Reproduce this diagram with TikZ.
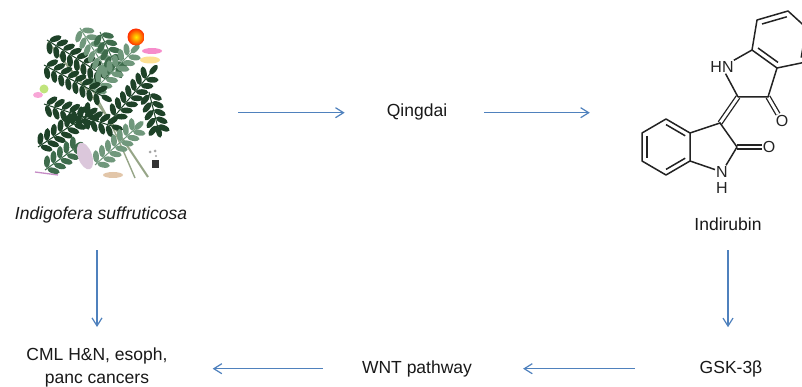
\documentclass[tikz,border=0pt]{standalone}
\usepackage{fontspec}
\setmainfont{Liberation Sans}
\usetikzlibrary{arrows.meta,calc}
\definecolor{arrowblue}{RGB}{79,129,189}
\definecolor{dkgreen}{RGB}{30,66,40}
\definecolor{mdgreen}{RGB}{62,108,76}
\definecolor{gygreen}{RGB}{112,152,124}
\definecolor{stemc}{RGB}{150,165,135}
\definecolor{txt}{RGB}{25,25,25}
\definecolor{bondc}{RGB}{35,35,35}
\newcommand\pinnleaf[5]{%
  \begin{scope}[shift={(#1,#2)},rotate=#3]
    \draw[#5,line width=1] (0,0) -- (#4,0);
    \foreach \s in {3,11,...,#4} {
      \fill[#5, rotate around={52:(\s+3.5,-5.6)}] (\s+3.5,-5.6) ellipse [x radius=6.3, y radius=2.9];
      \fill[#5, rotate around={-52:(\s+3.5,5.6)}] (\s+3.5,5.6) ellipse [x radius=6.3, y radius=2.9];
    }
    \fill[#5] (#4+5,0) ellipse [x radius=6, y radius=2.8];
  \end{scope}}
\tikzset{
  lbl/.style={font=\fontsize{17.5}{23}\selectfont, text=txt, inner sep=0pt, text height=12.6pt, text depth=4pt},
  lbltwo/.style={font=\fontsize{17.5}{23}\selectfont, text=txt, inner sep=0pt, align=center},
  arr/.style={draw=arrowblue, line width=1.2pt, -{Straight Barb[length=8pt,width=10pt]}},
  bond/.style={draw=bondc, line width=1.5pt},
  dbond/.style={draw=bondc, line width=1.3pt, double=white, double distance=2.8pt},
  atom/.style={font=\fontsize{16}{18}\selectfont, text=bondc, inner sep=1pt}
}
\begin{document}
\begin{tikzpicture}[x=1pt,y=-1pt]
\useasboundingbox (0,0) rectangle (802,387);
\fill[white] (0,0) rectangle (802,387);

% ---------- plant illustration ----------
\node[inner sep=0pt, minimum width=140pt, minimum height=10pt] (plant) at (100,112.7) {};
\draw[stemc, line width=2pt] (48,42) .. controls (100,105) .. (148,177);
\draw[stemc, line width=1.4pt] (75,60) .. controls (110,120) .. (135,178);
\pinnleaf{47}{40}{-32}{62}{dkgreen}
\pinnleaf{80}{28}{-58}{45}{gygreen}
\pinnleaf{100}{32}{-65}{40}{mdgreen}
\pinnleaf{92}{92}{45}{56}{gygreen}
\pinnleaf{44}{65}{-28}{66}{dkgreen}
\pinnleaf{44}{104}{-18}{72}{dkgreen}
\pinnleaf{38}{147}{33}{60}{dkgreen}
\pinnleaf{113}{118}{50}{58}{dkgreen}
\pinnleaf{149}{92}{-76}{36}{dkgreen}
\pinnleaf{95}{165}{42}{54}{gygreen}
\pinnleaf{45}{170}{36}{36}{mdgreen}
\fill[black!30!violet!22!white, rotate around={20:(85,156)}] (85,156) ellipse [x radius=7, y radius=14];
\shade[inner color=yellow!85!orange, outer color=red!65!orange] (136,37) circle (8.5);
\fill[magenta!45!white] (152,51) ellipse [x radius=10, y radius=3];
\fill[yellow!45!orange!40!white] (150,60) ellipse [x radius=10, y radius=3.5];
\fill[yellow!55!green!55!white] (44,89) circle (4.5);
\fill[magenta!35!white] (38,95) ellipse [x radius=5, y radius=3];
\draw[violet!45!white, line width=1.3pt] (35,172) -- (58,175);
\fill[brown!45!white] (113,175) ellipse [x radius=10, y radius=3];
\fill[black!80] (152,160) rectangle (159,168);
\fill[gray!70] (150,152) circle (1.5) (155,151) circle (1.5) (156,156) circle (1.2);

% ---------- indirubin structure ----------
\coordinate (l3a) at (690,133);
\coordinate (l4) at (666,119);
\coordinate (l5) at (642,133);
\coordinate (l6) at (642,161);
\coordinate (l7) at (666,175);
\coordinate (l7a) at (690,161);
\coordinate (lc) at (666,147);
\coordinate (l3) at (720,123);
\coordinate (l2) at (737,147);
\node[atom] (lN) at (722,172) {N};
\node[atom] (lH) at (722,188) {H};
\node[atom] (lO) at (769,147) {O};
\coordinate (u2) at (738,97);
\coordinate (u3) at (768,97);
\coordinate (u3a) at (777,68);
\coordinate (u4) at (806,62);
\coordinate (u5) at (811,32);
\coordinate (u6) at (788,11);
\coordinate (u7) at (757,20);
\coordinate (u7a) at (752,50);
\coordinate (uc) at (782,40);
\node[atom] (uN) at (722,67) {HN};
\node[atom] (uO) at (782,121) {O};
\node[inner sep=0pt, minimum width=160pt, minimum height=10pt] (mol) at (722,112.7) {};

\draw[dbond] (l3) -- (u2);
\draw[dbond] (l2) -- (lO);
\draw[dbond] (u3) -- (uO);
\draw[bond, line join=round] (l3a) -- (l4) -- (l5) -- (l6) -- (l7) -- (l7a) -- cycle;
\draw[bond] (l3a) -- (l3) -- (l2);
\draw[bond] (l7a) -- (lN);
\draw[bond] (lN) -- (l2);
\draw[bond] ($(lc)!0.8!(l3a)$) -- ($(lc)!0.8!(l4)$);
\draw[bond] ($(lc)!0.8!(l5)$) -- ($(lc)!0.8!(l6)$);
\draw[bond] ($(lc)!0.8!(l7)$) -- ($(lc)!0.8!(l7a)$);
\draw[bond, line join=round] (u7a) -- (u7) -- (u6) -- (u5) -- (u4) -- (u3a) -- cycle;
\draw[bond] (u3a) -- (u3) -- (u2);
\draw[bond] (u2) -- (uN);
\draw[bond] (uN) -- (u7a);
\draw[bond] ($(uc)!0.8!(u7)$) -- ($(uc)!0.8!(u6)$);
\draw[bond] ($(uc)!0.8!(u7a)$) -- ($(uc)!0.8!(u3a)$);
\draw[bond] ($(uc)!0.8!(u5)$) -- ($(uc)!0.8!(u4)$);

% ---------- labels ----------
\node[lbl, anchor=base] (plantlbl) at (101,219) {\itshape Indigofera suffruticosa};
\node[lbl, anchor=base] (qingdai) at (417,117) {Qingdai};
\node[lbl, anchor=base] (indirubin) at (728,230) {Indirubin};
\node[lbltwo, anchor=north] (cml) at (97,348) {CML H\&N, esoph,\\panc cancers};
\node[lbl, anchor=base] (wnt) at (417,373) {WNT pathway};
\node[lbl, anchor=base] (gsk) at (731,373) {GSK-3β};

% ---------- arrows ----------
\draw[arr, shorten <=68pt, shorten >=42pt] (qingdai.west -| plant.east) -- (qingdai.west);
\draw[arr, shorten <=37pt, shorten >=52pt] (qingdai.east) -- (qingdai.east -| mol.west);
\draw[arr, shorten <=27pt, shorten >=21pt] (cml.north |- plantlbl.south) -- (cml.north);
\draw[arr, shorten <=16pt, shorten >=33pt] (indirubin.south) -- (indirubin.south |- gsk.north);
\draw[arr, shorten <=65pt, shorten >=51pt] (gsk.west) -- (gsk.west -| wnt.east);
\draw[arr, shorten <=39pt, shorten >=45pt] (wnt.west) -- (wnt.west -| cml.east);
\end{tikzpicture}
\end{document}
